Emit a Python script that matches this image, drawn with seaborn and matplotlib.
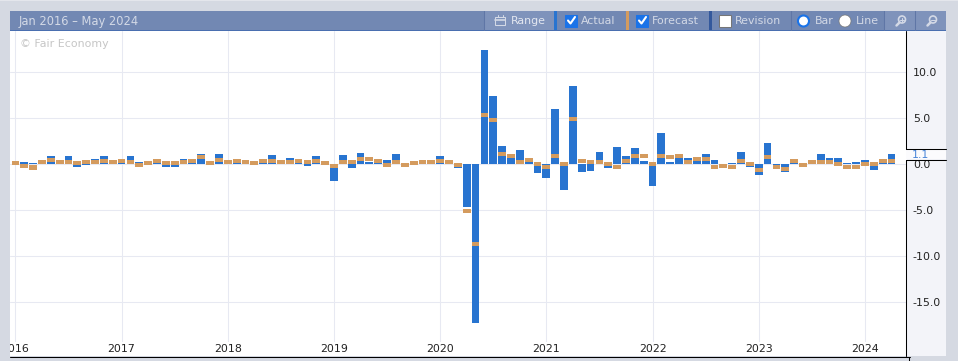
import numpy as np
import pandas as pd
import matplotlib
matplotlib.use('Agg')
import matplotlib.pyplot as plt
import seaborn as sns
from matplotlib.patches import Rectangle, Circle

# monthly values, Jan 2016 onwards
actual = [0.0, 0.2, 0.1, 0.2, 0.95, 0.2, 0.85, -0.25, -0.1, 0.6,
          0.95, 0.2, 0.2, 0.95, 0.3, 0.0, 0.2, -0.25, -0.25, 0.6,
          0.2, 1.15, 0.0, 1.15, 0.5, 0.1, 0.1, 0.0, 0.2, 1.05,
          0.1, 0.7, 0.2, -0.15, 0.85, 0.0, -1.8, 1.05, -0.4, 1.25,
          0.2, 0.2, 0.5, 1.15, 0.0, 0.0, 0.0, 0.1, 0.85, 0.0,
          -0.35, -4.6, -17.25, 12.46, 7.46, 2.03, 0.75, 1.6, 0.35, -0.9,
          -1.45, 6.0, -2.8, 8.5, -0.8, -0.7, 1.35, -0.35, 1.9, 0.9,
          1.8, 0.4, -2.35, 3.4, 0.3, 0.75, 0.7, 0.35, 1.1, 0.45,
          0.0, 0.15, 1.35, -0.25, -1.15, 2.3, -0.3, -0.8, 0.15, 0.0,
          0.1, 1.1, 0.7, 0.7, 0.15, 0.3, 0.45, -0.6, 0.15, 1.1]
forecast = [0.1, -0.15, -0.35, 0.3, 0.5, 0.3, 0.3, 0.1, 0.2, 0.3,
            0.4, 0.3, 0.4, 0.3, -0.05, 0.1, 0.4, 0.1, 0.1, 0.2,
            0.4, 0.83, 0.1, 0.5, 0.2, 0.4, 0.3, 0.1, 0.4, 0.4,
            0.3, 0.2, 0.4, 0.3, 0.4, 0.1, -0.15, 0.3, 0.3, 0.6,
            0.6, 0.4, -0.05, 0.3, -0.05, 0.1, 0.2, 0.3, 0.4, 0.2,
            -0.05, -5.1, -8.65, 5.4, 4.85, 1.15, 0.95, 0.3, 0.5, 0.0,
            -0.25, 0.95, 0.05, 4.95, 0.4, 0.3, 0.3, 0.05, -0.25, 0.4,
            0.95, 0.85, 0.05, 0.95, 0.8, 0.9, 0.25, 0.6, 0.6, -0.3,
            -0.2, -0.3, 0.35, 0.05, -0.6, 0.8, -0.3, -0.5, 0.35, -0.1,
            0.25, 0.25, 0.25, 0.05, -0.3, -0.3, 0.05, 0.05, 0.35, 0.35]
year_labels = ['2016', '2017', '2018', '2019', '2020', '2021', '2022', '2023', '2024']
y_ticks = [10, 5, 0, -5, -10, -15]

BLUE = '#2874d0'
ORANGE = '#d49b5e'
PAGE = '#d5d9e2'
HEADER = '#7288b3'
HEAD_TXT = '#d3d9e6'
GRID = '#e7e9f2'

W, H = 958, 361
sns.set_style('white')
plt.rcParams['font.family'] = ['DejaVu Sans']

fig = plt.figure(figsize=(W / 100, H / 100), dpi=100, facecolor=PAGE)


def px_axes(left, top, right, bottom, z):
    return fig.add_axes([left / W, 1 - bottom / H, (right - left) / W, (bottom - top) / H], zorder=z)


# background layer in pixel coordinates
bg = px_axes(0, 0, W, H, 0)
bg.set_xlim(0, W)
bg.set_ylim(H, 0)
bg.axis('off')
bg.add_patch(Rectangle((10, 31), 897, 325, fc='white', lw=0))
bg.add_patch(Rectangle((907, 31), 39, 325, fc='#f3f4f9', lw=0))

# main chart
ax = px_axes(10, 31, 906.5, 342, 1)
ax.patch.set_alpha(0)
months = np.arange(len(actual))
df = pd.DataFrame({'month': months, 'actual': actual, 'forecast': forecast})
sns.barplot(data=df, x='month', y='actual', native_scale=True, color=BLUE, saturation=1,
            width=0.88, errorbar=None, linewidth=0, ax=ax, zorder=2)
mark_h = 0.44
ax.bar(df['month'], mark_h, bottom=df['forecast'] - mark_h / 2, width=0.88, color=ORANGE, lw=0, zorder=3)

ax.set_xlim(-0.61, 100.7)
ax.set_ylim(-19.32, 14.49)
ax.set_xlabel('')
ax.set_ylabel('')
ax.set_xticks(months[::12])
ax.set_xticklabels(year_labels, fontsize=7.9, color='#222222')
ax.yaxis.tick_right()
ax.set_yticks(y_ticks)
ax.set_yticklabels([f'{v:.1f}' for v in y_ticks], fontsize=7.9, color='#222222')
ax.tick_params(axis='x', length=0, pad=1.5)
ax.tick_params(axis='y', length=0, pad=4.5)
ax.grid(True, color=GRID, lw=0.75)
ax.set_axisbelow(True)
sns.despine(ax=ax, left=True, right=True, top=True, bottom=True)

# top layer: header, frame lines, labels
ui = px_axes(0, 0, W, H, 2)
ui.set_xlim(0, W)
ui.set_ylim(H, 0)
ui.axis('off')
ui.patch.set_alpha(0)

ui.add_patch(Rectangle((0, 31), 10, 330, fc=PAGE, lw=0))
ui.add_patch(Rectangle((0, 0), W, 1, fc='#e4e6ec', lw=0))
ui.add_patch(Rectangle((10, 11), 936, 19, fc=HEADER, lw=0))
ui.add_patch(Rectangle((10, 30), 936, 1, fc='#4a6fb0', lw=0))
ui.text(18.5, 21, 'Jan 2016 – May 2024', fontsize=8.3, color=HEAD_TXT, va='center')
ui.text(20, 44, '© Fair Economy', fontsize=7.9, color='#c6c6c6', va='center')

# header buttons
ui.add_patch(Rectangle((485, 11), 69, 19, fc='#7f93bb', lw=0))
ui.add_patch(Rectangle((885, 11), 30, 19, fc='#7f93bb', lw=0))
ui.add_patch(Rectangle((916, 11), 30, 19, fc='#7f93bb', lw=0))
for sep in [484.5, 791, 884.5, 915.5]:
    ui.plot([sep, sep], [11, 30], color='#5f76a6', lw=0.75)
ui.add_patch(Rectangle((554, 11), 3.5, 19, fc=BLUE, lw=0))
ui.add_patch(Rectangle((626, 11), 3.5, 19, fc=ORANGE, lw=0))
ui.add_patch(Rectangle((709, 11), 3.5, 19, fc='#33589c', lw=0))

# calendar icon
ui.add_patch(Rectangle((495.5, 17), 10, 8, fc='none', ec=HEAD_TXT, lw=0.75))
ui.plot([495.5, 505.5], [19.5, 19.5], color=HEAD_TXT, lw=1.2)
ui.plot([498, 498], [15, 17], color=HEAD_TXT, lw=0.75)
ui.plot([503, 503], [15, 17], color=HEAD_TXT, lw=0.75)

labels = [(510.5, 'Range', '#e3e7f0'), (581, 'Actual', HEAD_TXT), (651.5, 'Forecast', HEAD_TXT),
          (734.5, 'Revision', HEAD_TXT), (815, 'Bar', HEAD_TXT), (856, 'Line', HEAD_TXT)]
for tx, s, col in labels:
    ui.text(tx, 21, s, fontsize=7.9, color=col, va='center')

# checkboxes
for bx in [565.5, 636.5]:
    ui.add_patch(Rectangle((bx, 14.5), 12, 12, fc='#1a73e8', ec='#1a73e8', lw=0.75))
    ui.plot([bx + 2.5, bx + 5, bx + 9.5], [20.5, 23.5, 17], color='white', lw=1.5)
ui.add_patch(Rectangle((719.5, 14.5), 12, 12, fc='white', ec='#767676', lw=0.75))

# radios
ui.add_patch(Circle((803.5, 21), 5.5, fc='white', ec='#1a73e8', lw=1.5))
ui.add_patch(Circle((845, 21), 6, fc='white', ec='#777777', lw=0.5))

# zoom icons
for cx, plus in [(901, True), (932, False)]:
    ui.add_patch(Circle((cx + 1, 19.5), 3.5, fc='none', ec=HEAD_TXT, lw=1.2))
    ui.plot([cx - 1.5, cx - 4.5], [22.5, 25.5], color=HEAD_TXT, lw=1.8)
    ui.plot([cx - 1, cx + 3], [19.5, 19.5], color=HEAD_TXT, lw=0.75)
    if plus:
        ui.plot([cx + 1, cx + 1], [17.5, 21.5], color=HEAD_TXT, lw=0.75)

# frame of the value panel, with the latest-value flag
ui.plot([906.5, 906.5], [31, 148.5], color='black', lw=0.75)
ui.plot([906.5, 906.5], [159.5, 356], color='black', lw=0.75)
ui.add_patch(Rectangle((906, 149), 40, 10, fc='#fbfbfd', lw=0))
ui.plot([906.5, 946], [148.5, 148.5], color='black', lw=0.75)
ui.plot([906.5, 946], [159.5, 159.5], color='black', lw=0.75)
ui.text(912, 154.5, f'{actual[-1]:.1f}', fontsize=7.9, color='#4a86d8', va='center')
ui.plot([10, 910], [356.5, 356.5], color='black', lw=0.75)
ui.plot([909.5, 909.5], [356.5, 361], color='black', lw=0.75)

fig.savefig('out.png', dpi=100, facecolor=PAGE)
